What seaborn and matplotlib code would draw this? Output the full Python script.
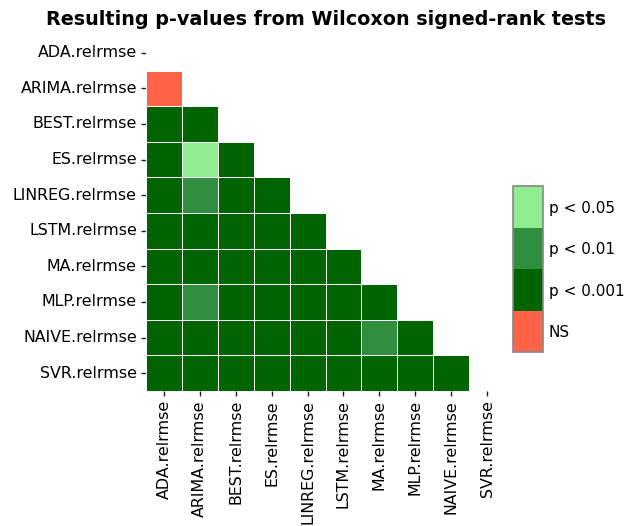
import numpy as np
import pandas as pd
import matplotlib
matplotlib.use("Agg")
import matplotlib.pyplot as plt
from matplotlib.colors import ListedColormap
import seaborn as sns

# Model isimleri
models = ["ADA", "ARIMA", "BEST", "ES", "LINREG", "LSTM", "MA", "MLP", "NAIVE", "SVR"]
labels = [m + ".relrmse" for m in models]

# Anlamlılık kodları: 0 = NS, 1 = p < 0.001, 2 = p < 0.01, 3 = p < 0.05
# Alt üçgen satırları (köşegen hariç)
lower_rows = [
    [],
    [0],
    [1, 1],
    [1, 3, 1],
    [1, 2, 1, 1],
    [1, 1, 1, 1, 1],
    [1, 1, 1, 1, 1, 1],
    [1, 2, 1, 1, 1, 1, 1],
    [1, 1, 1, 1, 1, 1, 2, 1],
    [1, 1, 1, 1, 1, 1, 1, 1, 1],
]
cat_labels = ["NS", "p < 0.001", "p < 0.01", "p < 0.05"]
cat_colors = ["tomato", "darkgreen", "#2f8f3f", "lightgreen"]

n = len(labels)
mat = np.full((n, n), np.nan)
for i, row in enumerate(lower_rows):
    for j, v in enumerate(row):
        mat[i, j] = v
df = pd.DataFrame(mat, index=labels, columns=labels)
mask = np.triu(np.ones((n, n), dtype=bool))

sns.set_style("white")
plt.rcParams["font.family"] = ["DejaVu Sans"]
plt.rcParams["text.color"] = "black"
plt.rcParams["xtick.color"] = "black"
plt.rcParams["ytick.color"] = "black"

fig = plt.figure(figsize=(6.26, 5.26), dpi=100)
ax = fig.add_axes([146 / 626, 1 - 391 / 526, 359 / 626, 356 / 526])
cax = fig.add_axes([513 / 626, 1 - 352 / 526, 30 / 626, 166 / 526])

cmap = ListedColormap(cat_colors)
sns.heatmap(df, mask=mask, cmap=cmap, vmin=-0.5, vmax=3.5,
            linewidths=0.6, linecolor="white", square=False,
            ax=ax, cbar_ax=cax, cbar_kws={"ticks": [0, 1, 2, 3]})

ax.tick_params(axis="both", which="both", length=3.5, width=1, labelsize=11.4,
               left=True, bottom=True, color="#222222", pad=3)
ax.set_xticklabels(labels, rotation=90)
ax.set_yticklabels(labels, rotation=0)
ax.set_xlabel("")
ax.set_ylabel("")
ax.set_title("Resulting p-values from Wilcoxon signed-rank tests",
             fontsize=13.8, fontweight="bold", pad=7)

cax.set_yticklabels(cat_labels, fontsize=11)
cax.tick_params(length=0, pad=4)
cb = ax.collections[0].colorbar
cb.outline.set_visible(True)
cb.outline.set_edgecolor("#888888")
cb.outline.set_linewidth(1.2)

fig.savefig("out.png", dpi=100)
